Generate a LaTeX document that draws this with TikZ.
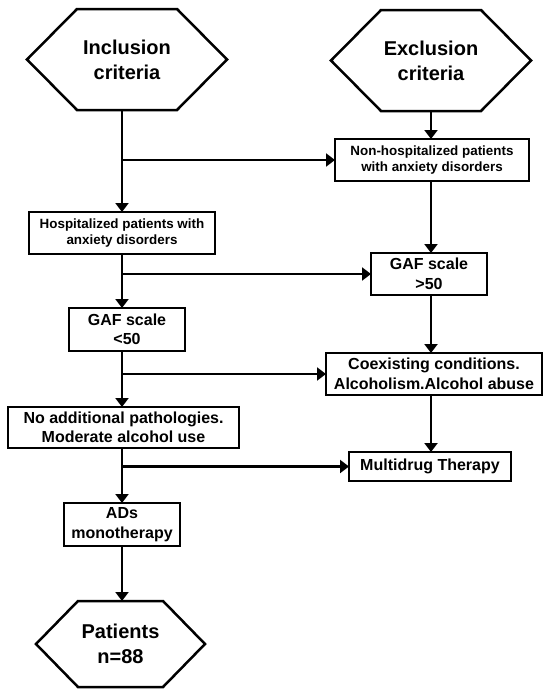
\documentclass[tikz,border=0pt]{standalone}
\usepackage{fontspec}
\setmainfont{Liberation Sans}
\usetikzlibrary{arrows.meta}
\begin{document}
\begin{tikzpicture}[x=1pt,y=-1pt,
  box/.style={draw, line width=2.5pt, inner sep=0pt, outer sep=0pt, align=center,
    font=\fontsize{16}{19.5}\selectfont\bfseries},
  smallbox/.style={box, font=\fontsize{13.4}{16.5}\selectfont\bfseries},
  hexcore/.style={inner sep=0pt, outer sep=0pt, align=center,
    font=\fontsize{20}{25}\selectfont\bfseries},
  hexline/.style={line width=2.5pt, line join=miter},
  conn/.style={line width=2.5pt},
  arr/.style={conn, -{Triangle[length=9pt,width=13pt]}}]
\useasboundingbox (0,0) rectangle (550,696);
% hexagon terminals
\node[hexcore, minimum width=100pt, minimum height=101pt] (inc) at (127,59.5) {Inclusion\\criteria};
\draw[hexline] ([xshift=-50pt]inc.west) -- (inc.north west) -- (inc.north east) -- ([xshift=50pt]inc.east) -- (inc.south east) -- (inc.south west) -- cycle;
\node[hexcore, minimum width=100pt, minimum height=101pt] (exc) at (431,60.5) {Exclusion\\criteria};
\draw[hexline] ([xshift=-50pt]exc.west) -- (exc.north west) -- (exc.north east) -- ([xshift=50pt]exc.east) -- (exc.south east) -- (exc.south west) -- cycle;
\node[hexcore, minimum width=85pt, minimum height=86pt] (pat) at (120.5,644) {Patients\\n=88};
\draw[hexline] ([xshift=-42pt]pat.west) -- (pat.north west) -- (pat.north east) -- ([xshift=42pt]pat.east) -- (pat.south east) -- (pat.south west) -- cycle;
% boxes
\node[smallbox, minimum width=194pt, minimum height=42pt] (nonhosp) at (432,160) {Non-hospitalized patients\\with anxiety disorders};
\node[smallbox, minimum width=186pt, minimum height=42pt] (hosp) at (122,233) {Hospitalized patients with\\anxiety disorders};
\node[box, minimum width=116pt, minimum height=42pt] (gafhi) at (429,274) {GAF scale\\>50};
\node[box, minimum width=116pt, minimum height=43pt] (gaflo) at (127,329.5) {GAF scale\\<50};
\node[box, minimum width=216pt, minimum height=42pt] (coex) at (434,374) {Coexisting conditions.\\Alcoholism.Alcohol abuse};
\node[box, minimum width=231pt, minimum height=41pt] (noadd) at (123.5,427.5) {No additional pathologies.\\Moderate alcohol use};
\node[box, minimum width=162pt, minimum height=29pt] (multi) at (430,466.5) {Multidrug Therapy};
\node[box, minimum width=116pt, minimum height=43pt] (ads) at (122,524.5) {ADs\\monotherapy};
% left column
\draw[arr] (inc.south -| hosp) -- (hosp.north);
\draw[arr] (hosp.south) -- (hosp.south |- gaflo.north);
\draw[arr] (gaflo.south -| hosp) -- (noadd.north -| hosp);
\draw[arr] (noadd.south -| ads) -- (ads.north);
\draw[arr] (ads.south) -- (ads.south |- pat.north);
% branches
\draw[arr] (hosp |- nonhosp.west) -- (nonhosp.west);
\draw[arr] (hosp |- gafhi.west) -- (gafhi.west);
\draw[arr] (hosp |- coex.west) -- (coex.west);
\draw[arr] (hosp |- multi.west) -- (multi.west);
% right column
\draw[arr] (exc.south) -- (exc.south |- nonhosp.north);
\draw[arr] (nonhosp.south -| exc) -- (gafhi.north -| exc);
\draw[arr] (gafhi.south -| exc) -- (coex.north -| exc);
\draw[arr] (coex.south -| exc) -- (multi.north -| exc);
\end{tikzpicture}
\end{document}
